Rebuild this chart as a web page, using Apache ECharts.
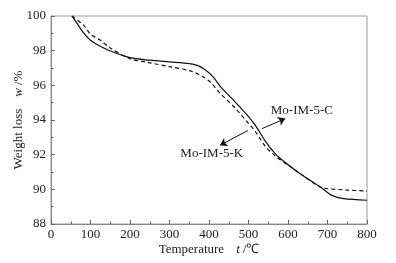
<!DOCTYPE html>
<html>
<head>
<meta charset="utf-8">
<script src="https://cdn.jsdelivr.net/npm/echarts@6/dist/echarts.min.js"></script>
<style>
  html, body { margin: 0; padding: 0; background: #fff; }
  #tgaChart { width: 396px; height: 263px; }
</style>
</head>
<body>
<div id="tgaChart"></div>
<script>
// Mo-IM-5-C (solid)
var tempC = [53, 65, 80, 100, 125, 150, 200, 250, 300, 350, 370, 390, 410, 430, 466, 500, 517, 542, 568, 593, 631, 682, 711, 741, 800];
var weightC = [100, 99.6, 99.1, 98.6, 98.25, 97.98, 97.6, 97.45, 97.35, 97.25, 97.15, 96.9, 96.5, 95.9, 95.05, 94.2, 93.7, 92.8, 92.05, 91.55, 90.9, 90.13, 89.65, 89.46, 89.37];
// Mo-IM-5-K (dashed)
var tempK = [53, 83, 100, 125, 150, 200, 250, 300, 353, 386, 403, 429, 466, 500, 517, 542, 568, 600, 631, 682, 699, 750, 800];
var weightK = [100, 99.46, 98.95, 98.6, 98.15, 97.54, 97.3, 97.08, 96.83, 96.48, 96.19, 95.52, 94.7, 93.8, 93.35, 92.5, 91.92, 91.4, 90.9, 90.13, 90.04, 89.96, 89.9];

var xTicks = [0, 100, 200, 300, 400, 500, 600, 700, 800];
var yTicks = [88, 90, 92, 94, 96, 98, 100];

// label text + arrow (from -> to) in data coords
var labelNames = ['Mo-IM-5-C', 'Mo-IM-5-K'];
var labelPos = [[635, 94.56], [407, 92.06]];
var arrowFrom = [[534, 93.5], [499, 93.4]];
var arrowTo = [[593, 94.08], [428, 92.54]];

function pairs(xs, ys) {
  return xs.map(function (x, i) { return [x, ys[i]]; });
}

var font = "'Liberation Serif', 'Times New Roman', serif";
var txtColor = '#222';

var myChart = echarts.init(document.getElementById('tgaChart'));
myChart.setOption({
  animation: false,
  textStyle: { fontFamily: font },
  grid: {
    left: 51,
    right: 29,
    top: 16,
    bottom: 39,
    outerBoundsMode: 'none',
    containLabel: false,
    show: true,
    borderColor: '#999',
    borderWidth: 1
  },
  xAxis: {
    type: 'value',
    min: xTicks[0],
    max: xTicks[xTicks.length - 1],
    interval: 100,
    name: '{a|Temperature}    {i|t} {a|/℃}',
    nameLocation: 'middle',
    nameGap: 19,
    nameMoveOverlap: false,
    nameTextStyle: {
      rich: {
        a: { fontFamily: font, fontSize: 13, color: txtColor },
        i: { fontFamily: font, fontSize: 13, color: txtColor, fontStyle: 'italic' }
      }
    },
    axisLine: { lineStyle: { color: '#888', width: 1 } },
    axisTick: { inside: true, length: 4, lineStyle: { color: '#666' } },
    minorTick: { show: true, splitNumber: 2, length: 2.5, lineStyle: { color: '#666' } },
    axisLabel: { fontFamily: font, fontSize: 13, color: txtColor, margin: 4 },
    splitLine: { show: false }
  },
  yAxis: {
    type: 'value',
    min: yTicks[0],
    max: yTicks[yTicks.length - 1],
    interval: 2,
    name: '{a|Weight loss}    {i|w} {a|/%}',
    nameLocation: 'middle',
    nameGap: 26,
    nameMoveOverlap: false,
    nameTextStyle: {
      rich: {
        a: { fontFamily: font, fontSize: 13, color: txtColor },
        i: { fontFamily: font, fontSize: 13, color: txtColor, fontStyle: 'italic' }
      }
    },
    axisLine: { show: true, lineStyle: { color: '#888', width: 1 } },
    axisTick: { show: true, inside: true, length: 4, lineStyle: { color: '#666' } },
    minorTick: { show: true, splitNumber: 2, length: 2.5, lineStyle: { color: '#666' } },
    axisLabel: { fontFamily: font, fontSize: 13, color: txtColor, margin: 5 },
    splitLine: { show: false }
  },
  series: [
    {
      name: labelNames[0],
      type: 'line',
      data: pairs(tempC, weightC),
      smooth: 0.3,
      showSymbol: false,
      lineStyle: { color: '#111', width: 1.2 },
      markLine: {
        silent: true,
        symbol: ['none', 'arrow'],
        symbolSize: 7,
        label: { show: false },
        lineStyle: { color: '#111', width: 1, type: 'solid' },
        data: arrowFrom.map(function (p, i) {
          return [{ coord: p }, { coord: arrowTo[i] }];
        })
      },
      markPoint: {
        silent: true,
        symbol: 'rect',
        symbolSize: 1,
        itemStyle: { color: 'rgba(0,0,0,0)' },
        label: {
          show: true,
          position: 'inside',
          fontFamily: font,
          fontSize: 13,
          color: txtColor,
          formatter: function (p) { return p.name; }
        },
        data: labelPos.map(function (p, i) {
          return { name: labelNames[i], coord: p };
        })
      }
    },
    {
      name: labelNames[1],
      type: 'line',
      data: pairs(tempK, weightK),
      smooth: 0.3,
      showSymbol: false,
      lineStyle: { color: '#111', width: 1.2, type: [4, 3] }
    }
  ]
});
</script>
</body>
</html>
